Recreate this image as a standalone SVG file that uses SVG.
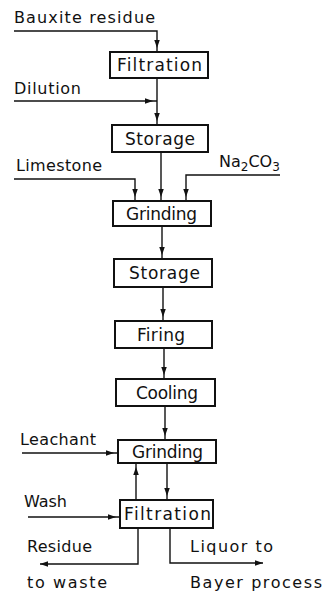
<svg xmlns="http://www.w3.org/2000/svg" width="325" height="591" viewBox="0 0 325 591">
<style>
  text { font-family: "DejaVu Sans", "Liberation Sans", sans-serif; font-size: 16px; fill: #111; }
  .box text { font-size: 17px; }
  .box rect { fill: #fff; stroke: #111; stroke-width: 2; }
  .conn path { fill: none; stroke: #111; stroke-width: 1.4; }
</style>
<defs>
  <marker id="mid" markerUnits="userSpaceOnUse" markerWidth="16" markerHeight="6" refX="12" refY="2.75" orient="auto" viewBox="0 0 16 5.5">
    <path d="M0,0 L8,2.75 L0,5.5 z" fill="#111"/>
  </marker>
  <marker id="end" markerUnits="userSpaceOnUse" markerWidth="9" markerHeight="6" refX="8" refY="2.75" orient="auto" viewBox="0 0 9 5.5">
    <path d="M0,0 L8,2.75 L0,5.5 z" fill="#111"/>
  </marker>
</defs>
<rect width="325" height="591" fill="#fff"/>

<g class="conn">
  <path d="M14,31 H157 V52" marker-end="url(#mid)"/>
  <path d="M14,101 H157" marker-end="url(#mid)"/>
  <path d="M157,78 V125" marker-end="url(#mid)"/>
  <path d="M14,179 H135 V201" marker-end="url(#mid)"/>
  <path d="M161,152 V201" marker-end="url(#mid)"/>
  <path d="M280,175 H186 V201" marker-end="url(#mid)"/>
  <path d="M162,226 V259" marker-end="url(#mid)"/>
  <path d="M163,287 V321" marker-end="url(#mid)"/>
  <path d="M164,348 V379" marker-end="url(#mid)"/>
  <path d="M165,406 V440" marker-end="url(#mid)"/>
  <path d="M22,453 H118" marker-end="url(#mid)"/>
  <path d="M167,463 V500" marker-end="url(#mid)"/>
  <path d="M136,500 V463" marker-end="url(#mid)"/>
  <path d="M28,517 H120" marker-end="url(#mid)"/>
  <path d="M138,528 V564 H40" marker-end="url(#end)"/>
  <path d="M170,528 V563 H263" marker-end="url(#end)"/>
</g>

<g id="labels">
  <text x="14" y="23" textLength="141" lengthAdjust="spacing">Bauxite residue</text>
  <text x="14" y="94" textLength="67" lengthAdjust="spacing">Dilution</text>
  <text x="16" y="171" textLength="86" lengthAdjust="spacing">Limestone</text>
  <text x="219" y="167">Na<tspan dy="4" font-size="12">2</tspan><tspan dy="-4">CO</tspan><tspan dy="4" font-size="12">3</tspan></text>
  <text x="20" y="445" textLength="76" lengthAdjust="spacing">Leachant</text>
  <text x="24" y="507" textLength="43" lengthAdjust="spacing">Wash</text>
  <text x="27" y="552" textLength="65" lengthAdjust="spacing">Residue</text>
  <text x="27" y="588" textLength="80" lengthAdjust="spacing">to waste</text>
  <text x="190" y="552" textLength="83" lengthAdjust="spacing">Liquor to</text>
  <text x="190" y="588" textLength="132" lengthAdjust="spacing">Bayer process</text>
</g>

<g id="filtration1" class="box"><rect x="110" y="52" width="98" height="26"/><text x="117" y="71" textLength="85" lengthAdjust="spacing">Filtration</text></g>
<g id="storage1" class="box"><rect x="112" y="125" width="96" height="27"/><text x="125" y="144.5" textLength="70" lengthAdjust="spacing">Storage</text></g>
<g id="grinding1" class="box"><rect x="113" y="201" width="98" height="25"/><text x="126" y="219.5" textLength="71" lengthAdjust="spacing">Grinding</text></g>
<g id="storage2" class="box"><rect x="114" y="259" width="98" height="28"/><text x="129" y="279" textLength="71" lengthAdjust="spacing">Storage</text></g>
<g id="firing" class="box"><rect x="115" y="321" width="97" height="27"/><text x="137" y="340.5" textLength="48" lengthAdjust="spacing">Firing</text></g>
<g id="cooling" class="box"><rect x="116" y="379" width="99" height="27"/><text x="136" y="398.5" textLength="62" lengthAdjust="spacing">Cooling</text></g>
<g id="grinding2" class="box"><rect x="118" y="440" width="98" height="23"/><text x="132" y="457.5" textLength="71" lengthAdjust="spacing">Grinding</text></g>
<g id="filtration2" class="box"><rect x="120" y="500" width="93" height="28"/><text x="124" y="520" textLength="87" lengthAdjust="spacing">Filtration</text></g>
</svg>
